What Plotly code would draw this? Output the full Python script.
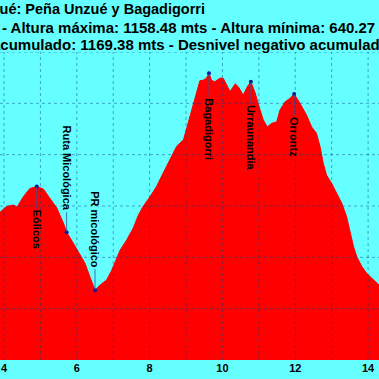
import plotly.graph_objects as go

# Elevation profile (km, metres)
dist_km = [3.85, 3.89, 4.07, 4.26, 4.36, 4.53, 4.71, 4.90, 5.08, 5.26, 5.45, 5.63, 5.72, 5.90,
           6.09, 6.22, 6.36, 6.50, 6.64, 6.82, 6.96, 7.05, 7.19, 7.37, 7.55, 7.69, 7.82,
           8.01, 8.19, 8.37, 8.56, 8.74, 8.93, 9.11, 9.20, 9.29, 9.38, 9.47, 9.56, 9.63,
           9.70, 9.79, 9.93, 10.02, 10.07, 10.21, 10.35, 10.44, 10.57, 10.68, 10.78, 10.90,
           10.99, 11.12, 11.23, 11.35, 11.49, 11.58, 11.72, 11.86, 11.97, 12.13, 12.31,
           12.45, 12.58, 12.68, 12.77, 12.86, 13.00, 13.14, 13.28, 13.41, 13.51, 13.60,
           13.69, 13.83, 13.96, 14.15, 14.30, 14.36]
alt_m = [884, 888, 899, 902, 898, 918, 934, 938, 933, 916, 896, 867, 849, 828,
         805, 789, 762, 736, 746, 756, 775, 791, 814, 834, 857, 882, 899,
         918, 938, 964, 990, 1016, 1029, 1074, 1100, 1123, 1144, 1145, 1149, 1158.48,
         1145, 1142, 1149, 1149, 1142, 1123, 1138, 1132, 1116, 1132, 1142, 1120,
         1097, 1068, 1054, 1061, 1064, 1087, 1103, 1110, 1118, 1100, 1077,
         1054, 1042, 1016, 983, 960, 944, 925, 905, 879, 847, 821,
         801, 782, 769, 756, 746, 742]

# Waypoints
wp_names = ["Eólicos", "Ruta Micológica", "PR micológico", "Bagadigorri", "Urraunandia", "Orrontz"]
wp_km = [4.90, 5.72, 6.50, 9.63, 10.78, 11.97]
wp_alt = [938, 849, 736, 1158.48, 1142, 1118]
wp_offset = [43, -64, -61, 56, 56, 43]

x_ticks = [4, 6, 8, 10, 12, 14]
x_grid = [4, 5, 6, 7, 8, 9, 10, 11, 12, 13, 14]
y_grid = [700, 800, 900, 1000, 1100, 1200]

title_1 = "Unzué: Peña Unzué y Bagadigorri"
title_2 = "- Altura máxima: 1158.48 mts - Altura mínima: 640.27 mts"
title_3 = "acumulado: 1169.38 mts - Desnivel negativo acumulado: 1169.38 mts"

BG = "#66FFFF"
FONT = "Liberation Sans, Arial, sans-serif"

fig = go.Figure()
fig.add_trace(go.Scatter(x=dist_km, y=alt_m, mode="lines", fill="tozeroy",
                         fillcolor="#FF0000", line=dict(color="#FF0000", width=1),
                         hoverinfo="skip"))
fig.add_trace(go.Scatter(x=wp_km, y=wp_alt, mode="markers",
                         marker=dict(color="#1010A0", size=4), hoverinfo="skip"))

shapes = []
for g in x_grid:
    shapes.append(dict(type="line", xref="x", yref="paper", x0=g, x1=g, y0=0, y1=1,
                       line=dict(color="rgba(0,60,130,0.45)", width=1, dash="dot"),
                       layer="above"))
for g in y_grid:
    shapes.append(dict(type="line", xref="paper", yref="y", x0=0, x1=1, y0=g, y1=g,
                       line=dict(color="rgba(0,60,130,0.45)", width=1, dash="dot"),
                       layer="above"))

annotations = []
for n, k, a, o in zip(wp_names, wp_km, wp_alt, wp_offset):
    annotations.append(dict(x=k, y=a, xref="x", yref="y", text=n, textangle=90,
                            showarrow=True, arrowhead=0, arrowwidth=0.8,
                            arrowcolor="#3050A0", ax=0, ay=o, standoff=0,
                            font=dict(family=FONT, size=11, color="black", weight="bold")))

W = 379.0
annotations.append(dict(text=title_1, xref="paper", yref="paper", x=207 / W, y=1,
                        xanchor="right", yanchor="middle", yshift=43, showarrow=False,
                        font=dict(family=FONT, size=14.5, color="black", weight="bold")))
annotations.append(dict(text=title_2, xref="paper", yref="paper", x=0 / W, y=1,
                        xanchor="left", yanchor="middle", yshift=25, showarrow=False,
                        font=dict(family=FONT, size=15, color="black", weight="bold")))
annotations.append(dict(text=title_3, xref="paper", yref="paper", x=-10 / W, y=1,
                        xanchor="left", yanchor="middle", yshift=8, showarrow=False,
                        font=dict(family=FONT, size=15, color="black", weight="bold")))

fig.update_layout(
    width=379, height=379,
    margin=dict(l=0, r=0, t=52, b=19),
    paper_bgcolor=BG, plot_bgcolor=BG,
    showlegend=False,
    shapes=shapes,
    annotations=annotations,
    xaxis=dict(range=[3.89, 14.30], tickvals=x_ticks, showgrid=False, zeroline=False,
               showline=False, ticks="", ticklabelstandoff=0,
               tickfont=dict(family=FONT, size=11, color="black", weight="bold")),
    yaxis=dict(range=[600, 1200], showgrid=False, zeroline=False, showticklabels=False,
               showline=False, ticks=""),
)

fig.write_html("out.html", config={"displayModeBar": False},
               post_script="document.body.style.margin='0';document.body.style.overflow='hidden';")
